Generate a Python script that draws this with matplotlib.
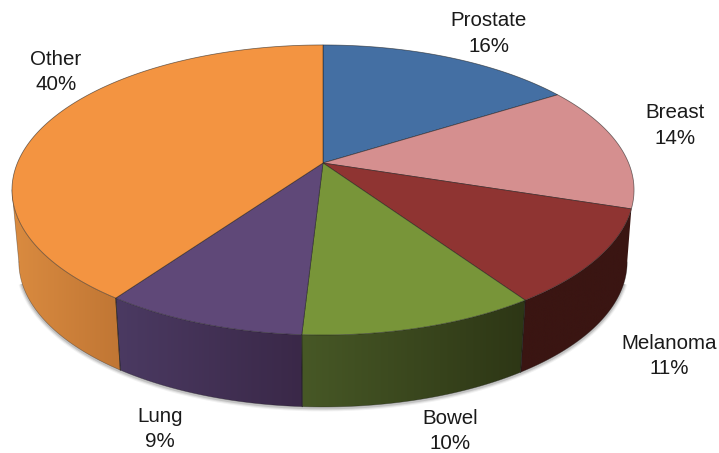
import numpy as np
import matplotlib
matplotlib.use("Agg")
from matplotlib import pyplot as plt
from matplotlib.colors import LinearSegmentedColormap
from matplotlib.patches import Polygon

names = ["Prostate", "Breast", "Melanoma", "Bowel", "Lung", "Other"]
shares = [16, 14, 10.55, 10.35, 8.85, 40.25]
share_labels = ["16%", "14%", "11%", "10%", "9%", "40%"]

top_colors = ["#446FA3", "#D58F8F", "#8F3432", "#789539", "#5F4878", "#F39441"]
# the wall runs from a lighter to a darker tone, read left to right on screen
side_left = ["#446FA3", "#D58F8F", "#3A1512", "#475826", "#4B3A62", "#DA8B40"]
side_right = ["#446FA3", "#D58F8F", "#3A1512", "#2D3615", "#3A2848", "#C07634"]

label_x = [488.5, 675, 669, 450, 160, 56]
label_y = [33.5, 125.5, 356, 431, 429, 72]

# pie geometry in image pixels, the view is a real perspective
cx, cy = 323, 163
ax_x, ax_y = 305.6, 140
persp = 0.186
depth = 72
shrink = 0.978
# the wall shows from the Melanoma slice round to the left silhouette
sil = np.degrees(np.arccos(-persp))
side_from, side_to = 108, 360 - sil


def rim(t):
    t = np.radians(t)
    X, Y = np.sin(t), np.cos(t)
    w = 1 + persp * Y
    return cx + ax_x * X / w, cy - ax_y * Y / w


def rim_low(t):
    x, y = rim(t)
    return cx + (x - cx) * shrink, y + depth


fig = plt.figure(figsize=(7.19, 4.53), dpi=100)
ax = fig.add_axes([0, 0, 1, 1])

edges = np.cumsum([0] + shares) * 3.6

# soft shadow under the disc
tt = np.linspace(sil + 8, side_to - 8, 200)
sx, sy = rim_low(tt)
for lw, a in [(5, 0.05), (3.5, 0.08), (2, 0.12)]:
    ax.plot(sx, sy + 1, color="black", lw=lw, alpha=a, zorder=1, solid_capstyle="butt")

# side wall: a horizontal gradient clipped to each slice's wall
for i in range(len(names)):
    a = max(edges[i], side_from)
    b = min(edges[i + 1], side_to)
    if a >= b:
        continue
    a_low = sil if a == side_from else a
    xt, yt = rim(np.linspace(a, b, 120))
    xb, yb = rim_low(np.linspace(b, a_low, 120))
    outline = np.c_[np.r_[xt, xb], np.r_[yt, yb]]
    cmap = LinearSegmentedColormap.from_list("wall", [side_left[i], side_right[i]])
    x0, x1 = outline[:, 0].min(), outline[:, 0].max()
    y0, y1 = outline[:, 1].min(), outline[:, 1].max()
    im = ax.imshow(np.linspace(0, 1, 256)[None, :], cmap=cmap, aspect="auto",
                   extent=[x0, x1, y1, y0], zorder=2)
    im.set_clip_path(Polygon(outline, transform=ax.transData))
    # seams only between slices
    for s in (a, b):
        if s in (side_from, side_to):
            continue
        ax.plot([rim(s)[0], rim_low(s)[0]], [rim(s)[1], rim_low(s)[1]],
                color="#1c1c1c", lw=0.6, alpha=0.6, zorder=3)

# outer wall line, including the silhouette on the left
tt = np.linspace(sil, side_to, 200)
ax.plot(*rim_low(tt), color="#1c1c1c", lw=0.5, alpha=0.4, zorder=3)
ax.plot([rim(side_to)[0], rim_low(side_to)[0]], [rim(side_to)[1], rim_low(side_to)[1]],
        color="#1c1c1c", lw=0.5, alpha=0.4, zorder=3)

# top face
for i in range(len(names)):
    tt = np.linspace(edges[i], edges[i + 1], 200)
    x, y = rim(tt)
    ax.fill(np.r_[cx, x], np.r_[cy, y], facecolor=top_colors[i],
            edgecolor=(0.1, 0.1, 0.1, 0.6), lw=0.55, zorder=4)

for i in range(len(names)):
    ax.text(label_x[i], label_y[i], names[i] + "\n" + share_labels[i],
            ha="center", va="center", fontsize=14.8, color="#1a1a1a",
            family="Liberation Sans", linespacing=1.42, zorder=5)

ax.set_xlim(0, 719)
ax.set_ylim(453, 0)
ax.axis("off")

fig.savefig("out.png", dpi=100)
